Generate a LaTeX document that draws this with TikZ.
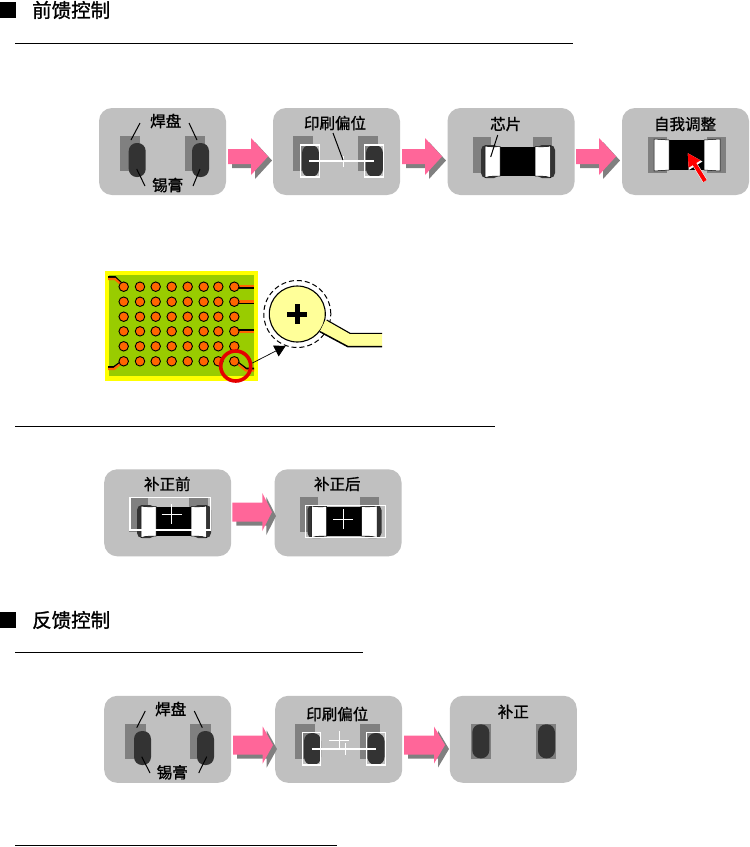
\documentclass[tikz,border=0pt]{standalone}
\usepackage{fontspec}
\setmainfont{Noto Sans CJK SC}
\newfontfamily\labelfont[FakeBold=1.2]{Noto Sans CJK SC}
\usetikzlibrary{arrows.meta}
\definecolor{panelgray}{HTML}{C0C0C0}
\definecolor{padgray}{HTML}{808080}
\definecolor{pastedark}{HTML}{333333}
\definecolor{flowpink}{HTML}{FF6699}
\definecolor{pcbgreen}{HTML}{99CC00}
\definecolor{pcbyellow}{HTML}{FFFF00}
\definecolor{paleyellow}{HTML}{FFFF99}
\definecolor{pinorange}{HTML}{FF6600}
\tikzset{
  panelbox/.style={fill=panelgray, rounded corners=13pt, minimum width=127pt, minimum height=87pt, inner sep=0pt},
  steplabel/.style={font=\fontsize{15.5}{16}\selectfont\labelfont, inner sep=0pt},
  headlabel/.style={font=\fontsize{19.5}{20}\selectfont\labelfont, inner sep=0pt, anchor=west},
  leader/.style={black, line width=1pt},
  whiteline/.style={white, line width=1.3pt},
  thinwhite/.style={white, line width=0.8pt},
  rulesep/.style={black, line width=0.9pt},
  tracedark/.style={black, line width=2pt},
  traceorange/.style={pinorange, line width=2.2pt},
  pcbdot/.style={circle, draw=black, fill=pinorange, line width=0.9pt, minimum size=9.5pt, inner sep=0pt},
}
% x0, shaft end, tip, y centre, half shaft, half head
\newcommand{\flowarrow}[6]{
  \fill[padgray, shift={(4,4)}] (#1,#4-#5) -- (#2,#4-#5) -- (#2,#4-#6) -- (#3,#4) -- (#2,#4+#6) -- (#2,#4+#5) -- (#1,#4+#5) -- cycle;
  \fill[flowpink] (#1,#4-#5) -- (#2,#4-#5) -- (#2,#4-#6) -- (#3,#4) -- (#2,#4+#6) -- (#2,#4+#5) -- (#1,#4+#5) -- cycle;
}
% left edge, right edge, top edge
\newcommand{\padpair}[3]{
  \fill[padgray] (#1,#3) rectangle +(20,35);
  \fill[padgray] (#2,#3) rectangle +(20,35);
}
\newcommand{\pastepair}[4]{
  \fill[pastedark, rounded corners=8pt] (#1,#3) rectangle +(17,#4);
  \fill[pastedark, rounded corners=8pt] (#2,#3) rectangle +(17,#4);
}
% chip on its paste
\newcommand{\chipbody}[2]{
  \begin{scope}[shift={(#1,#2)}]
    \fill[pastedark, rounded corners=5pt] (0,0) rectangle (18,33);
    \fill[pastedark, rounded corners=5pt] (56,0) rectangle (74,33);
    \fill[black] (18,1.5) rectangle (55,31);
    \filldraw[fill=white, draw=black, line width=0.5pt] (4.2,1) .. controls (9,2) and (14,2) .. (19,1.5) -- (19,31) .. controls (14,31) and (9,31) .. (4.2,32.5) -- cycle;
    \filldraw[fill=white, draw=black, line width=0.5pt] (54,1.5) .. controls (59,2) and (64,2) .. (69.5,1) -- (69.5,32.5) .. controls (64,31) and (59,31) .. (54,31) -- cycle;
  \end{scope}
}
\begin{document}
\begin{tikzpicture}[x=1pt,y=-1pt]
\useasboundingbox (0,0) rectangle (750,847);
\fill[white] (0,0) rectangle (750,847);

% headings and rules
\fill[black] (0,2) rectangle (16,18);
\node[headlabel] (headfeedforward) at (32,10) {前馈控制};
\draw[rulesep] (15,43) -- (573,43);
\draw[rulesep] (15,426) -- (495,426);
\fill[black] (0,612) rectangle (16,628);
\node[headlabel] (headfeedback) at (32,620) {反馈控制};
\draw[rulesep] (15,652) -- (363,652);
\draw[rulesep] (15,845) -- (337,845);

% first row
\node[panelbox] (printa) at (162.5,151.5) {};
\node[panelbox] (printb) at (336.5,151.5) {};
\node[panelbox] (printc) at (511,151.5) {};
\node[panelbox] (printd) at (685.5,151.5) {};
\flowarrow{228}{251}{268}{156.5}{7.5}{18.5}
\flowarrow{402}{425}{442}{156.5}{7.5}{18.5}
\flowarrow{576}{599}{616}{156.5}{7.5}{18.5}

\padpair{120}{185}{136}
\pastepair{128.7}{192}{143}{34}
\node[steplabel] (landa) at (165.7,121) {焊盘};
\node[steplabel] (pastea) at (167.7,185) {锡膏};
\draw[leader] (140,123) -- (131,140);
\draw[leader] (189,123) -- (197,140);
\draw[leader] (136.7,169) -- (145,186);
\draw[leader] (200,169) -- (193,186);

\padpair{293}{358}{136}
\pastepair{302}{366}{145}{32}
\node[steplabel] (offseta) at (335,123) {印刷偏位};
\draw[whiteline] (300.7,145) rectangle (319.7,177);
\draw[whiteline] (364.7,145) rectangle (383.3,177);
\draw[whiteline] (309,161) -- (374,161);
\draw[thinwhite] (343,156) -- (343,167);
\draw[leader] (333,133) -- (343,160);

\fill[padgray] (473,137) rectangle (491,173);
\fill[padgray] (533,137) rectangle (552,173);
\chipbody{481}{145}
\node[steplabel] (chiplabel) at (505.7,124) {芯片};
\draw[leader] (497.7,135) -- (490.7,157);

\fill[padgray] (648,137) rectangle (667,173);
\fill[padgray] (707,137) rectangle (725.7,173);
\fill[black] (669,140) rectangle (704,170);
\filldraw[fill=white, draw=black, line width=0.5pt] (654,139) -- (669,140) -- (669,170) -- (654,171) -- cycle;
\filldraw[fill=white, draw=black, line width=0.5pt] (704,140) -- (720,139) -- (720,171) -- (704,170) -- cycle;
\node[steplabel] (selfalign) at (685,124) {自我调整};
\coordinate (redtail) at (705,181);
\coordinate (redtip) at (687.7,153);
\draw[white, line width=5pt, -{Triangle[length=15pt,width=15pt]}] (redtail) -- (redtip);
\draw[red, line width=4pt, -{Triangle[length=13pt,width=13pt]}] (redtail) -- (redtip);

% board
\fill[pcbyellow] (105,271) rectangle (257.7,380.7);
\fill[pcbgreen] (109,275) rectangle (254,376);
\draw[tracedark] (108,277) -- (115,277) -- (123.7,285.5);
\draw[traceorange] (108,279) -- (115,279) -- (123.7,286.7);
\draw[tracedark] (234.3,288.2) -- (254,288.2);
\draw[traceorange] (234.3,286.2) -- (254,286.2);
\draw[tracedark] (234.3,303.4) -- (254,303.4);
\draw[traceorange] (234.3,301.4) -- (254,301.4);
\draw[tracedark] (234.3,329.6) -- (254,329.6);
\draw[traceorange] (234.3,331.6) -- (254,331.6);
\draw[tracedark] (108,367) -- (114,367) -- (123.7,360);
\draw[traceorange] (108,369) -- (114,369) -- (123.7,361.3);
\draw[tracedark] (234.3,359.8) -- (246,368.6) -- (254,368.6);
\draw[traceorange] (234.3,361.3) -- (246,370.6) -- (254,370.6);
\foreach \dotx [count=\i] in {123.7,140,155.7,171.7,187.7,203.7,218.3,234.3}
  \foreach \doty [count=\j] in {286.7,301.7,316.7,331.3,346.3,361.3}
    \node[pcbdot] (pin\i-\j) at (\dotx,\doty) {};
\node[circle, draw=red!90!black, line width=3.6pt, minimum size=30pt, inner sep=0pt] (ringmark) at (235.7,366) {};

% enlarged land
\node[circle, draw=black, dash pattern=on 5pt off 3pt, line width=1pt, minimum size=67pt, inner sep=0pt] (haloland) at (297.3,314) {};
\node[circle, draw=black, fill=paleyellow, line width=1.1pt, minimum size=56pt, inner sep=0pt] (landbig) at (297.3,314) {};
\fill[paleyellow] (325.5,320) -- (350,333.3) -- (382,333.3) -- (382,346.7) -- (348,346.7) -- (320,331) -- cycle;
\draw[black, line width=1.1pt] (326.7,320) -- (350,333.3) -- (382,333.3);
\draw[black, line width=1.5pt] (320,331.7) -- (348,346.7) -- (382,346.7);
\fill[black] (287.3,311.5) rectangle (307.3,316.5);
\fill[black] (294.8,304) rectangle (299.8,324);
\draw[black, line width=0.7pt, -{Triangle[length=11pt,width=12pt]}] (ringmark.10) -- (haloland.250);

% correction row
\node[panelbox] (fixa) at (167.7,512.8) {};
\node[panelbox] (fixb) at (338,512.8) {};
\flowarrow{232.3}{262.3}{272}{512}{9.5}{19}
\node[steplabel] (beforefix) at (167.3,484) {补正前};
\node[steplabel] (afterfix) at (337.3,484) {补正后};
\fill[padgray] (129.3,497.3) rectangle (148,531.7);
\fill[padgray] (189,497.3) rectangle (208,531.7);
\chipbody{137}{505}
\draw[whiteline] (130,497.3) rectangle (210.7,530);
\draw[thinwhite] (161.7,514) -- (181.7,514);
\draw[thinwhite] (171.7,504) -- (171.7,524);
\fill[padgray] (300,497.3) rectangle (318,531.7);
\fill[padgray] (360,497.3) rectangle (379,531.7);
\chipbody{307.5}{505}
\draw[whiteline] (305.3,505.7) rectangle (385.7,537.3);
\draw[thinwhite] (333.3,519) -- (353.3,519);
\draw[thinwhite] (343.3,509) -- (343.3,529);

% feedback row
\node[panelbox] (backa) at (167.7,739.3) {};
\node[panelbox] (backb) at (338.7,739.3) {};
\node[panelbox] (backc) at (513.3,739.3) {};
\flowarrow{233}{262.7}{273}{745}{9.5}{18.5}
\flowarrow{404}{434}{445}{745}{9.5}{18.5}

\fill[padgray] (125,724) rectangle (145.7,759);
\fill[padgray] (190.3,724) rectangle (211,759);
\pastepair{134}{197}{731}{34}
\node[steplabel] (landb) at (170.7,709) {焊盘};
\node[steplabel] (pasteb) at (172.3,772.3) {锡膏};
\draw[leader] (145.3,711) -- (136.7,727.7);
\draw[leader] (194.3,711) -- (202.3,727.7);
\draw[leader] (141.7,756.7) -- (150,773);
\draw[leader] (206.7,756.7) -- (198.7,773);

\padpair{295}{360}{724}
\pastepair{304}{367.5}{733}{32}
\node[steplabel] (offsetb) at (337.3,714) {印刷偏位};
\draw[whiteline] (302.3,732.7) rectangle (320.7,765);
\draw[whiteline] (366.7,732.7) rectangle (385.7,765);
\draw[whiteline] (311.7,749) -- (376,749);
\draw[thinwhite] (329.3,740.3) -- (349.3,740.3);
\draw[thinwhite] (339.3,731) -- (339.3,750);
\draw[thinwhite] (345.3,743) -- (345.3,755);

\padpair{471}{536}{724}
\pastepair{472.3}{538}{724.3}{34}
\node[steplabel] (fixdone) at (513.3,711.7) {补正};
\end{tikzpicture}
\end{document}
